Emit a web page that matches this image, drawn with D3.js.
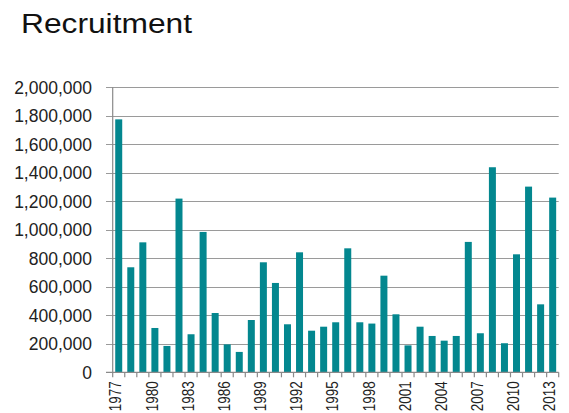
<!DOCTYPE html>
<html><head><meta charset="utf-8">
<script src="https://cdn.jsdelivr.net/npm/d3@7"></script>
<style>
html,body{margin:0;padding:0;background:#fff;}
svg text{font-family:"Liberation Sans",Arial,sans-serif;}
</style></head>
<body>
<svg id="c" width="569" height="413"></svg>
<script>
const title = "Recruitment";
const years = [1977,1978,1979,1980,1981,1982,1983,1984,1985,1986,1987,1988,1989,1990,1991,1992,1993,1994,1995,1996,1997,1998,1999,2000,2001,2002,2003,2004,2005,2006,2007,2008,2009,2010,2011,2012,2013];
const recruitment = [1775000,737000,912000,311000,185000,1219000,267000,985000,416000,196000,143000,367000,772000,627000,337000,842000,292000,320000,351000,870000,351000,342000,678000,407000,189000,320000,255000,222000,255000,915000,274000,1439000,204000,828000,1303000,477000,1226000];
const yTicks = [0,200000,400000,600000,800000,1000000,1200000,1400000,1600000,1800000,2000000];
const xLabelYears = [1977,1980,1983,1986,1989,1992,1995,1998,2001,2004,2007,2010,2013];

const svg = d3.select("#c");
const pLeft = 112.7, pRight = 558.7, pTop = 87.3, pBottom = 372.3;

const x = d3.scaleBand().domain(years).range([pLeft, pRight]).paddingInner(0.42).paddingOuter(0.21);
const y = d3.scaleLinear().domain([0, 2000000]).range([pBottom, pTop]);

svg.append("text").attr("x", 21).attr("y", 33).attr("font-size", 27)
  .attr("textLength", 171).attr("lengthAdjust", "spacingAndGlyphs")
  .attr("fill", "#111").text(title);

// gridlines
svg.append("g").selectAll("line").data(yTicks.filter(d => d > 0)).join("line")
  .attr("x1", 106).attr("x2", pRight)
  .attr("y1", d => Math.round(y(d)) + 0.5).attr("y2", d => Math.round(y(d)) + 0.5)
  .attr("stroke", "#9a9a9a").attr("stroke-width", 1);

// y labels
svg.append("g").selectAll("text").data(yTicks).join("text")
  .attr("x", 92).attr("y", d => y(d)).attr("dy", "0.36em")
  .attr("text-anchor", "end").attr("font-size", 17.5).attr("fill", "#222")
  .text(d => d3.format(",")(d));

// bars
svg.append("g").selectAll("rect").data(years).join("rect")
  .attr("x", d => x(d)).attr("width", x.bandwidth())
  .attr("y", (d, i) => y(recruitment[i])).attr("height", (d, i) => pBottom - y(recruitment[i]))
  .attr("fill", "#03878f");

// axes lines
svg.append("line").attr("x1", pLeft).attr("x2", pLeft).attr("y1", pTop).attr("y2", pBottom)
  .attr("stroke", "#8a8a8a").attr("stroke-width", 1.2);
svg.append("line").attr("x1", 106).attr("x2", pRight).attr("y1", pBottom).attr("y2", pBottom)
  .attr("stroke", "#8a8a8a").attr("stroke-width", 1.2);

// x tick marks at band boundaries
const bounds = d3.range(years.length + 1).map(i => pLeft + i * (pRight - pLeft) / years.length);
svg.append("g").selectAll("line").data(bounds).join("line")
  .attr("x1", d => d).attr("x2", d => d).attr("y1", pBottom).attr("y2", pBottom + 5)
  .attr("stroke", "#8a8a8a").attr("stroke-width", 1.2);

// x labels
svg.append("g").selectAll("text").data(xLabelYears).join("text")
  .attr("transform", d => `translate(${x(d) + x.bandwidth() / 2 - 3},${pBottom + 9}) rotate(-90)`)
  .attr("dy", "0.36em").attr("text-anchor", "end").attr("font-size", 16).attr("fill", "#222")
  .attr("textLength", 30).attr("lengthAdjust", "spacingAndGlyphs")
  .text(d => d);
</script>
</body></html>
